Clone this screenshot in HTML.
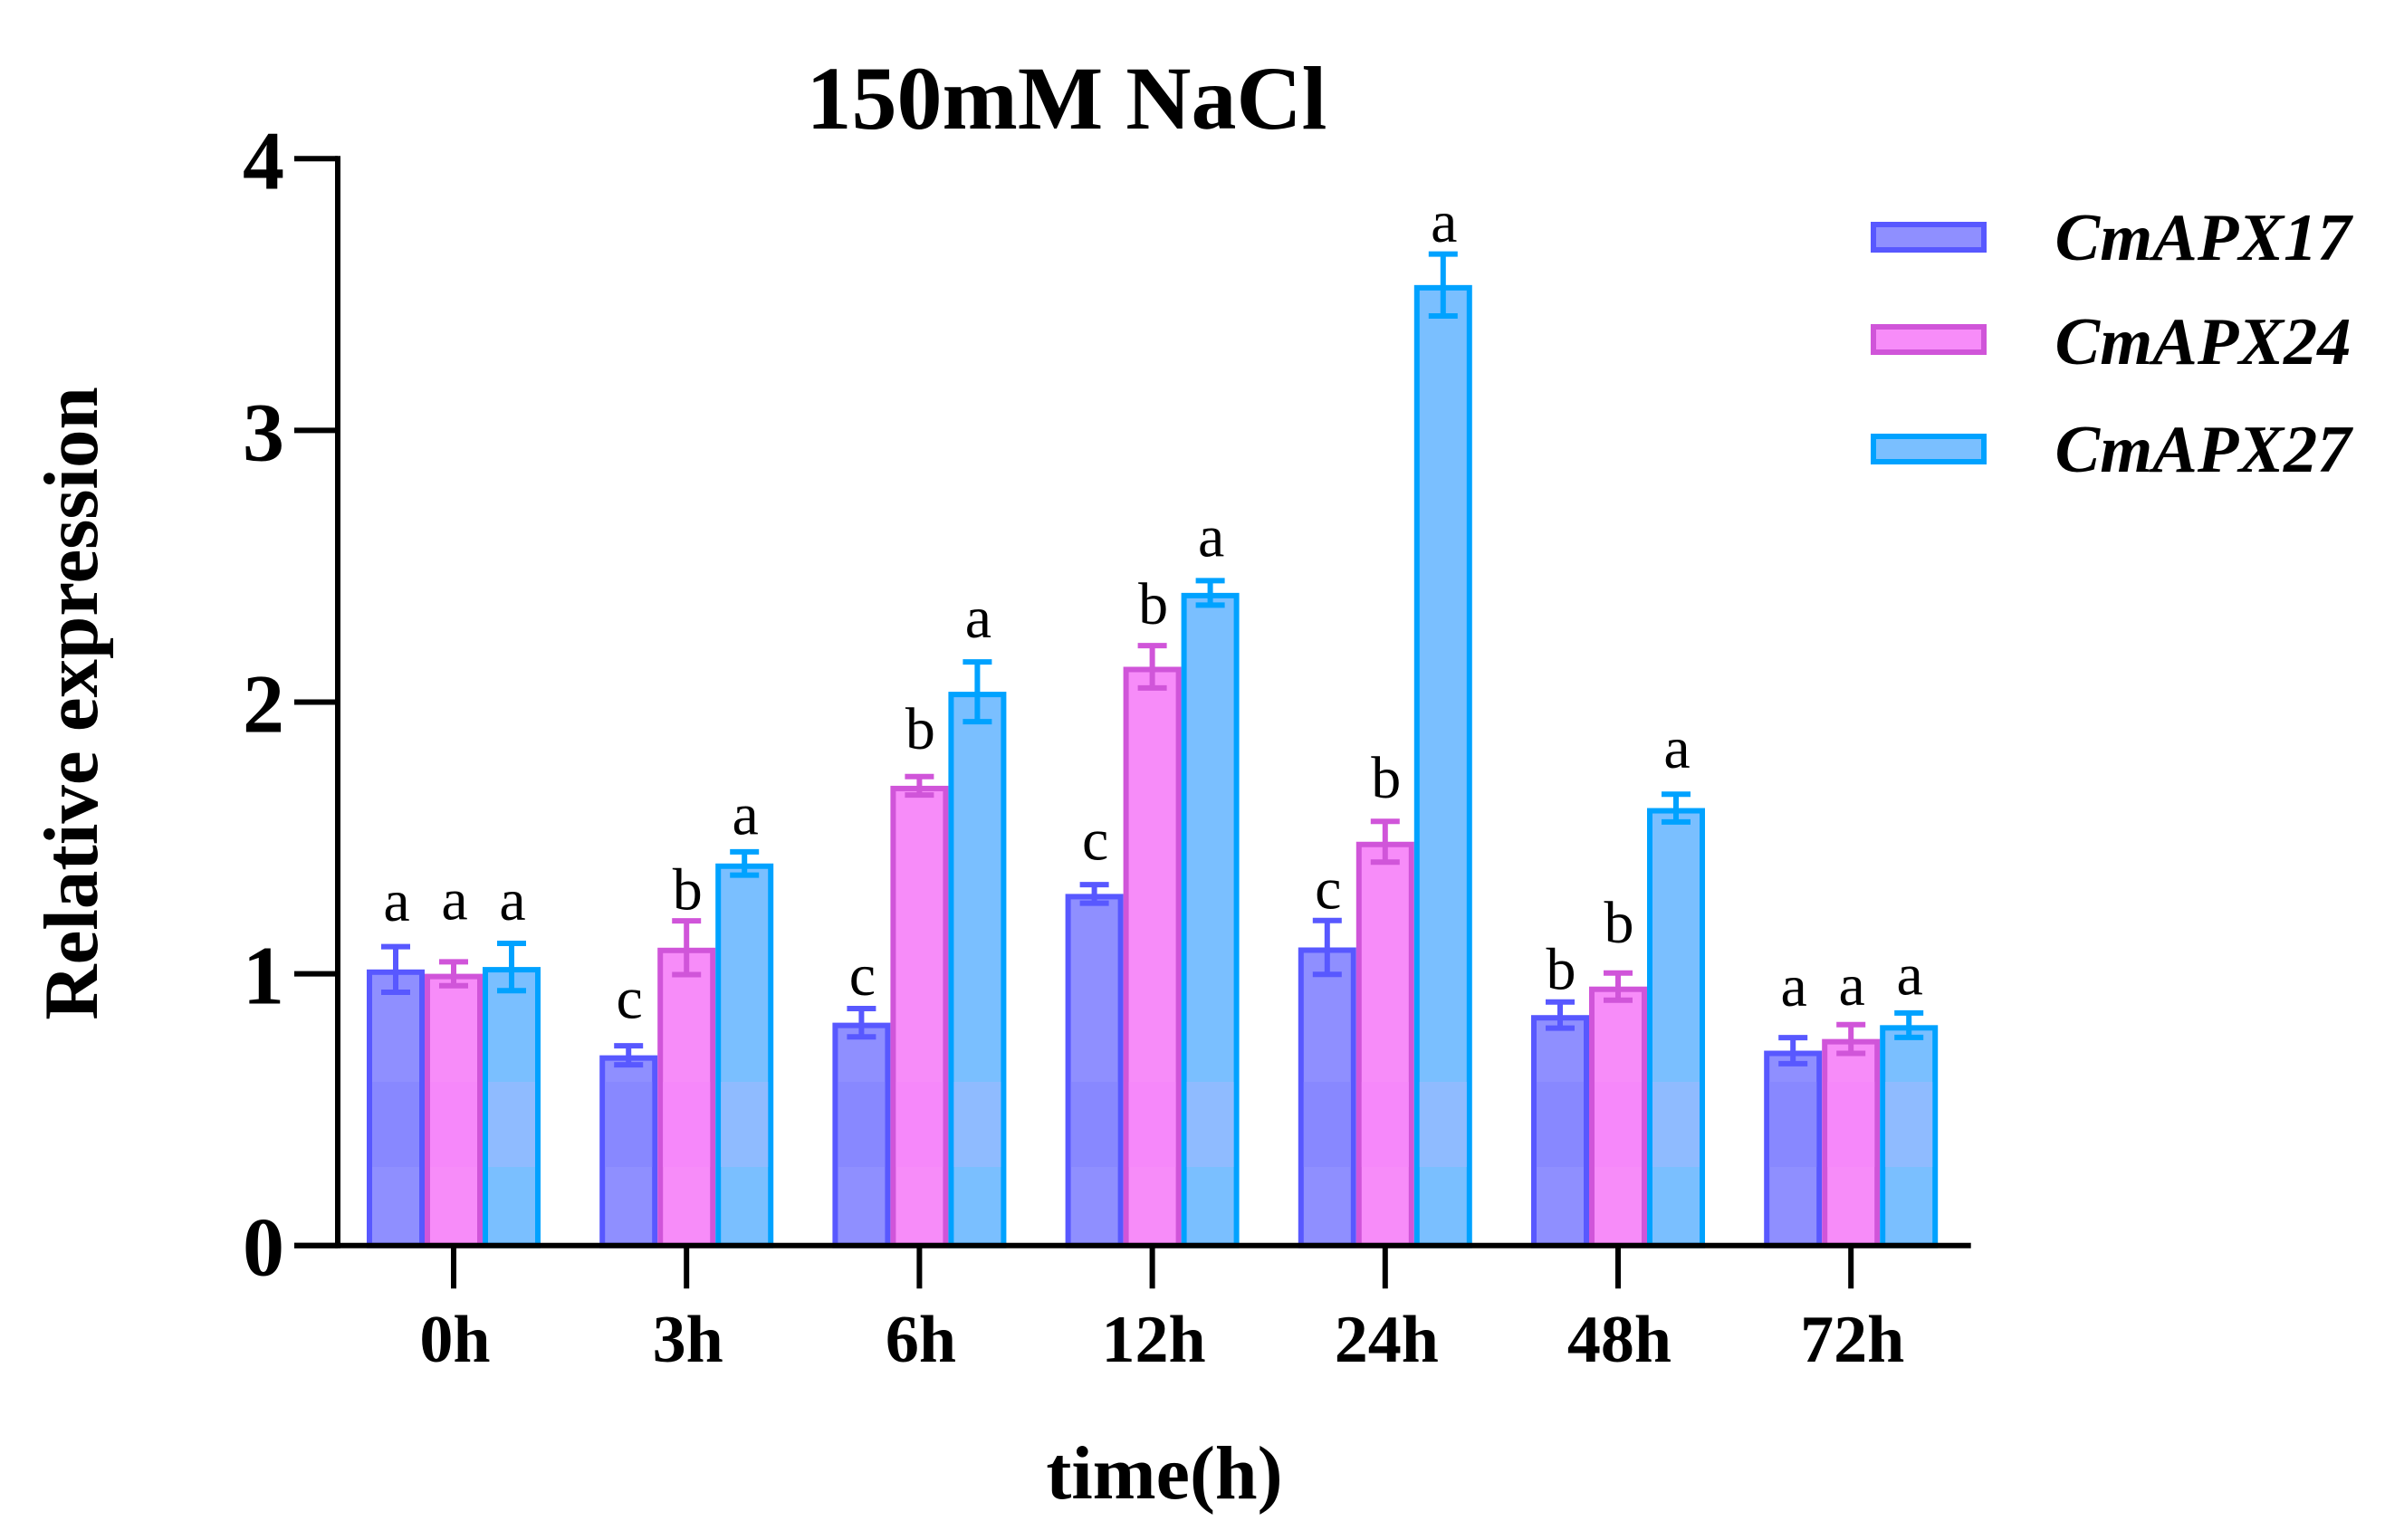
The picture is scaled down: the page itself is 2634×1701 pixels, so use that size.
<!DOCTYPE html>
<html lang="en">
<head>
<meta charset="utf-8">
<title>150mM NaCl relative expression</title>
<style>
html,body{margin:0;padding:0;background:#fff;}
svg{display:block;}
text{font-family:"Liberation Serif",serif;fill:#000;}
</style>
</head>
<body>
<svg id="chart" xmlns="http://www.w3.org/2000/svg" width="2634" height="1701" viewBox="0 0 2634 1701">
  <rect x="0" y="0" width="2634" height="1701" fill="#ffffff"/>
  <text x="1178" y="142" font-size="100" font-weight="700" text-anchor="middle">150mM NaCl</text>
  <text transform="translate(107 777) rotate(-90)" font-size="85" font-weight="700" text-anchor="middle">Relative expression</text>
  <text x="1286" y="1655" font-size="84" font-weight="700" text-anchor="middle">time(h)</text>
  <g id="bars"></g>
  <g id="axes"></g>
  <g id="legend"></g>
</svg>
<script>
const categories = ['0h', '3h', '6h', '12h', '24h', '48h', '72h'];
const yTicks = [0, 1, 2, 3, 4];
const seriesNames = ['CmAPX17', 'CmAPX24', 'CmAPX27'];

const cmApx17Values = [1.016, 0.70, 0.82, 1.294, 1.097, 0.848, 0.717];
const cmApx24Values = [1.0, 1.096, 1.692, 2.13, 1.486, 0.953, 0.76];
const cmApx27Values = [1.025, 1.406, 2.038, 2.402, 3.535, 1.61, 0.811];

const cmApx17Errors = [0.084, 0.035, 0.052, 0.034, 0.099, 0.048, 0.048];
const cmApx24Errors = [0.044, 0.099, 0.034, 0.078, 0.075, 0.05, 0.053];
const cmApx27Errors = [0.087, 0.043, 0.11, 0.045, 0.114, 0.051, 0.045];

const cmApx17Letters = ['a', 'c', 'c', 'c', 'c', 'b', 'a'];
const cmApx24Letters = ['a', 'b', 'b', 'b', 'b', 'b', 'a'];
const cmApx27Letters = ['a', 'a', 'a', 'a', 'a', 'a', 'a'];

/* gap between error cap and significance letter, in axis units */
const cmApx17LetterLift = [0.096, 0.102, 0.05, 0.092, 0.045, 0.047, 0.117];
const cmApx24LetterLift = [0.156, 0.042, 0.102, 0.08, 0.087, 0.113, 0.073];
const cmApx27LetterLift = [0.086, 0.064, 0.091, 0.089, 0.046, 0.098, 0.068];

const NS = 'http://www.w3.org/2000/svg';
const barsLayer = document.getElementById('bars');
const axesLayer = document.getElementById('axes');
const legendLayer = document.getElementById('legend');

const PLOT = { y0: 1375.7, unit: 300.1, firstX: 501, stepX: 257.2, barW: 64 };
const BAND = { top: 1195, bottom: 1289 };

const seriesStyles = [
  { fill: '#8F8FFF', stroke: '#5858FF', band: '#8888FF' },
  { fill: '#F78CF9', stroke: '#D055D9', band: '#F688FA' },
  { fill: '#7ABFFF', stroke: '#00A2FF', band: '#8FBBFF' }
];
const seriesValues = [cmApx17Values, cmApx24Values, cmApx27Values];
const seriesErrors = [cmApx17Errors, cmApx24Errors, cmApx27Errors];
const seriesLetters = [cmApx17Letters, cmApx24Letters, cmApx27Letters];
const seriesLifts = [cmApx17LetterLift, cmApx24LetterLift, cmApx27LetterLift];

function yScale(v) { return PLOT.y0 - v * PLOT.unit; }
function xGroup(i) { return PLOT.firstX + i * PLOT.stepX; }
function xBar(i, s) { return xGroup(i) + (s - 1) * PLOT.barW; }

function mk(tag, attrs, parent) {
  const el = document.createElementNS(NS, tag);
  for (const k in attrs) el.setAttribute(k, attrs[k]);
  parent.appendChild(el);
  return el;
}

seriesValues.forEach(function (values, s) {
  const st = seriesStyles[s];
  values.forEach(function (v, i) {
    const cx = xBar(i, s);
    const top = yScale(v);
    const bar = mk('rect', { x: cx - 29, y: top + 3, width: 58, height: Math.max(0, PLOT.y0 - top - 3), fill: st.fill, stroke: st.stroke, 'stroke-width': 6 }, barsLayer);
    
    

    const bandTop = Math.max(BAND.top, top + 6);
    if (bandTop < BAND.bottom) {
      const band = mk('rect', { x: cx - 26, y: bandTop, width: 52, height: BAND.bottom - bandTop, fill: st.band }, barsLayer);
      
      
    }

    const e = seriesErrors[s][i];
    const yHi = yScale(v + e);
    const yLo = yScale(v - e);
    const stem = mk('line', { x1: cx, x2: cx, y1: yHi, y2: yLo, stroke: st.stroke, 'stroke-width': 6 }, barsLayer);
    
    
    const capTop = mk('line', { x1: cx - 16, x2: cx + 16, y1: yHi, y2: yHi, stroke: st.stroke, 'stroke-width': 6 }, barsLayer);
    
    
    const capBottom = mk('line', { x1: cx - 16, x2: cx + 16, y1: yLo, y2: yLo, stroke: st.stroke, 'stroke-width': 6 }, barsLayer);
    
    
  });
});

seriesLetters.forEach(function (letters, s) {
  letters.forEach(function (letter, i) {
    const v = seriesValues[s][i] + seriesErrors[s][i] + seriesLifts[s][i];
    const t = mk('text', { x: xBar(i, s) + 1, y: yScale(v), 'font-size': 66, 'text-anchor': 'middle' }, barsLayer);
    t.textContent = letter;
    
    
  });
});

const yAxisLine = mk('line', { x1: 373, x2: 373, y1: 172.3, y2: 1378.7, stroke: '#000', 'stroke-width': 6 }, axesLayer);


const xAxisLine = mk('line', { x1: 325, x2: 2176.7, y1: PLOT.y0, y2: PLOT.y0, stroke: '#000', 'stroke-width': 6 }, axesLayer);



yTicks.forEach(function (v) {
  const yy = yScale(v);
  const tick = mk('line', { x1: 325, x2: 373, y1: yy, y2: yy, stroke: '#000', 'stroke-width': 6 }, axesLayer);
  
  
  const label = mk('text', { x: 314, y: yy + 33, 'font-size': 92, 'font-weight': 700, 'text-anchor': 'end' }, axesLayer);
  label.textContent = String(v);
  
  
});

categories.forEach(function (c, i) {
  const xx = xGroup(i);
  const tick = mk('line', { x1: xx, x2: xx, y1: PLOT.y0, y2: 1423.3, stroke: '#000', 'stroke-width': 6 }, axesLayer);
  
  
  const label = mk('text', { x: xx + 1.5, y: 1504, 'font-size': 74, 'font-weight': 700, 'text-anchor': 'middle' }, axesLayer);
  label.textContent = c;
  
  
});

const legendSlots = [{ box: 245, base: 287 }, { box: 358, base: 402 }, { box: 479, base: 521 }];
seriesNames.forEach(function (name, s) {
  const st = seriesStyles[s];
  const slot = legendSlots[s];
  const swatch = mk('rect', { x: 2069, y: slot.box + 3, width: 122, height: 28, fill: st.fill, stroke: st.stroke, 'stroke-width': 6 }, legendLayer);
  
  
  const label = mk('text', { x: 2269.5, y: slot.base, 'font-size': 74.5, 'font-weight': 700, 'font-style': 'italic' }, legendLayer);
  label.textContent = name;
  
  
});
</script>
</body>
</html>
